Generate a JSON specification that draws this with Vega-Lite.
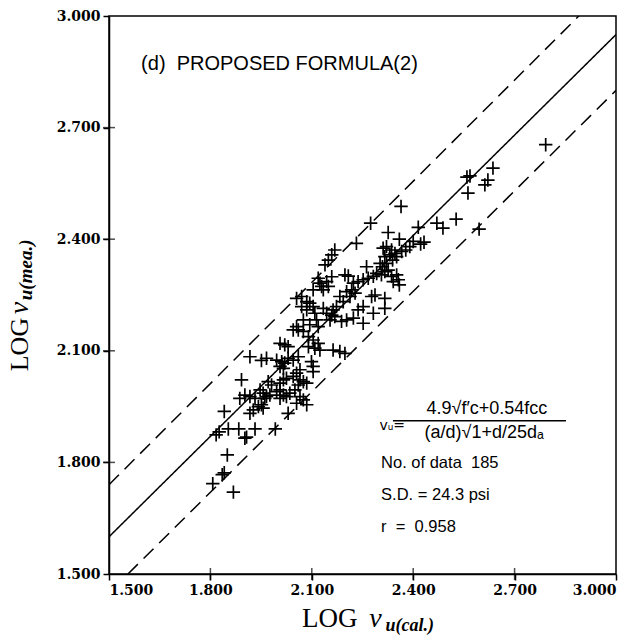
{
  "$schema": "https://vega.github.io/schema/vega-lite/v6.json",
  "width": 507,
  "height": 558,
  "autosize": {"type": "none"},
  "padding": {"left": 109, "top": 16, "right": 25, "bottom": 61},
  "background": "white",
  "config": {
    "view": {"stroke": "black", "strokeWidth": 1.5},
    "axis": {
      "labelFont": "DejaVu Serif", "labelFontWeight": "bold", "labelFontSize": 14, "labelColor": "black",
      "domainColor": "black", "domainWidth": 1.5, "tickColor": "black", "tickWidth": 1.5, "tickSize": 6,
      "grid": false, "title": null
    }
  },
  "datasets": {
    "lines": [
      {"line": "fit", "style": "solid", "x": 1.5, "y": 1.6},
      {"line": "fit", "style": "solid", "x": 3.0, "y": 2.95},
      {"line": "upper", "style": "dashed", "x": 1.5, "y": 1.74},
      {"line": "upper", "style": "dashed", "x": 2.89, "y": 3.0},
      {"line": "lower", "style": "dashed", "x": 1.556, "y": 1.5},
      {"line": "lower", "style": "dashed", "x": 3.0, "y": 2.8}
    ],
    "ticks": [{"v": 1.8}, {"v": 2.1}, {"v": 2.4}, {"v": 2.7}],
    "points": [
      {"cal": 2.364, "mea": 2.488}, {"cal": 2.274, "mea": 2.443}, {"cal": 2.232, "mea": 2.389}, {"cal": 2.326, "mea": 2.418},
      {"cal": 2.359, "mea": 2.400}, {"cal": 2.415, "mea": 2.432}, {"cal": 2.400, "mea": 2.394}, {"cal": 2.422, "mea": 2.387},
      {"cal": 2.390, "mea": 2.380}, {"cal": 2.378, "mea": 2.371}, {"cal": 2.366, "mea": 2.367}, {"cal": 2.351, "mea": 2.353},
      {"cal": 2.339, "mea": 2.344}, {"cal": 2.311, "mea": 2.376}, {"cal": 2.321, "mea": 2.380}, {"cal": 2.336, "mea": 2.371},
      {"cal": 2.346, "mea": 2.362}, {"cal": 2.331, "mea": 2.358}, {"cal": 2.316, "mea": 2.353}, {"cal": 2.321, "mea": 2.335},
      {"cal": 2.309, "mea": 2.326}, {"cal": 2.326, "mea": 2.317}, {"cal": 2.302, "mea": 2.335}, {"cal": 2.306, "mea": 2.304},
      {"cal": 2.316, "mea": 2.313}, {"cal": 2.336, "mea": 2.300}, {"cal": 2.351, "mea": 2.304}, {"cal": 2.359, "mea": 2.277},
      {"cal": 2.341, "mea": 2.286}, {"cal": 2.356, "mea": 2.291},
      {"cal": 2.262, "mea": 2.326}, {"cal": 2.198, "mea": 2.304}, {"cal": 2.208, "mea": 2.301}, {"cal": 2.223, "mea": 2.282},
      {"cal": 2.237, "mea": 2.286}, {"cal": 2.252, "mea": 2.291}, {"cal": 2.267, "mea": 2.295}, {"cal": 2.282, "mea": 2.300},
      {"cal": 2.292, "mea": 2.308}, {"cal": 2.203, "mea": 2.259}, {"cal": 2.218, "mea": 2.264}, {"cal": 2.213, "mea": 2.246},
      {"cal": 2.228, "mea": 2.255}, {"cal": 2.277, "mea": 2.246}, {"cal": 2.287, "mea": 2.250}, {"cal": 2.316, "mea": 2.241},
      {"cal": 2.252, "mea": 2.219}, {"cal": 2.237, "mea": 2.210}, {"cal": 2.316, "mea": 2.214}, {"cal": 2.282, "mea": 2.201},
      {"cal": 2.252, "mea": 2.174}, {"cal": 2.223, "mea": 2.188}, {"cal": 2.203, "mea": 2.183}, {"cal": 2.188, "mea": 2.179},
      {"cal": 2.168, "mea": 2.371}, {"cal": 2.159, "mea": 2.358}, {"cal": 2.149, "mea": 2.344}, {"cal": 2.139, "mea": 2.331},
      {"cal": 2.173, "mea": 2.219}, {"cal": 2.163, "mea": 2.210}, {"cal": 2.159, "mea": 2.196}, {"cal": 2.168, "mea": 2.192},
      {"cal": 2.154, "mea": 2.183}, {"cal": 2.144, "mea": 2.201}, {"cal": 2.134, "mea": 2.214}, {"cal": 2.183, "mea": 2.246},
      {"cal": 2.193, "mea": 2.232}, {"cal": 2.159, "mea": 2.299}, {"cal": 2.144, "mea": 2.286}, {"cal": 2.129, "mea": 2.273},
      {"cal": 2.134, "mea": 2.264}, {"cal": 2.149, "mea": 2.273}, {"cal": 2.119, "mea": 2.295}, {"cal": 2.124, "mea": 2.282},
      {"cal": 2.104, "mea": 2.264}, {"cal": 2.070, "mea": 2.246}, {"cal": 2.055, "mea": 2.241}, {"cal": 2.085, "mea": 2.232},
      {"cal": 2.094, "mea": 2.228}, {"cal": 2.104, "mea": 2.219}, {"cal": 2.085, "mea": 2.210}, {"cal": 2.070, "mea": 2.219},
      {"cal": 2.109, "mea": 2.201}, {"cal": 2.114, "mea": 2.183}, {"cal": 2.119, "mea": 2.165}, {"cal": 2.094, "mea": 2.170},
      {"cal": 2.075, "mea": 2.183}, {"cal": 2.045, "mea": 2.156}, {"cal": 2.060, "mea": 2.156}, {"cal": 2.075, "mea": 2.152},
      {"cal": 2.055, "mea": 2.165}, {"cal": 2.090, "mea": 2.138}, {"cal": 2.104, "mea": 2.129}, {"cal": 2.119, "mea": 2.120},
      {"cal": 2.109, "mea": 2.107}, {"cal": 2.124, "mea": 2.102}, {"cal": 2.090, "mea": 2.111}, {"cal": 2.163, "mea": 2.102},
      {"cal": 2.183, "mea": 2.098}, {"cal": 2.198, "mea": 2.093},
      {"cal": 2.006, "mea": 2.120}, {"cal": 2.020, "mea": 2.116}, {"cal": 2.030, "mea": 2.111}, {"cal": 1.917, "mea": 2.084},
      {"cal": 1.951, "mea": 2.074}, {"cal": 1.966, "mea": 2.080}, {"cal": 1.996, "mea": 2.075}, {"cal": 2.011, "mea": 2.071},
      {"cal": 2.020, "mea": 2.067}, {"cal": 2.030, "mea": 2.080}, {"cal": 2.006, "mea": 2.058}, {"cal": 2.016, "mea": 2.053},
      {"cal": 2.045, "mea": 2.075}, {"cal": 2.060, "mea": 2.084}, {"cal": 1.892, "mea": 2.022}, {"cal": 1.971, "mea": 2.017},
      {"cal": 1.981, "mea": 2.008}, {"cal": 2.006, "mea": 2.013}, {"cal": 2.016, "mea": 2.022}, {"cal": 2.025, "mea": 2.026},
      {"cal": 2.045, "mea": 2.031}, {"cal": 2.055, "mea": 2.040}, {"cal": 2.065, "mea": 2.049}, {"cal": 2.099, "mea": 2.071},
      {"cal": 2.104, "mea": 2.058}, {"cal": 2.104, "mea": 2.044}, {"cal": 1.947, "mea": 1.995}, {"cal": 1.956, "mea": 1.986},
      {"cal": 1.961, "mea": 1.972}, {"cal": 1.966, "mea": 1.977}, {"cal": 1.976, "mea": 1.981}, {"cal": 1.996, "mea": 1.990},
      {"cal": 2.006, "mea": 1.995}, {"cal": 2.006, "mea": 1.972}, {"cal": 2.016, "mea": 1.981}, {"cal": 2.025, "mea": 1.977},
      {"cal": 2.035, "mea": 1.986}, {"cal": 2.050, "mea": 1.995}, {"cal": 2.060, "mea": 2.008}, {"cal": 2.065, "mea": 2.022},
      {"cal": 2.075, "mea": 2.017}, {"cal": 2.085, "mea": 2.013}, {"cal": 2.065, "mea": 1.977}, {"cal": 2.075, "mea": 1.968},
      {"cal": 2.085, "mea": 1.955}, {"cal": 2.055, "mea": 1.959}, {"cal": 2.030, "mea": 1.932}, {"cal": 1.902, "mea": 1.981},
      {"cal": 1.917, "mea": 1.977}, {"cal": 1.932, "mea": 1.972}, {"cal": 1.942, "mea": 1.950}, {"cal": 1.927, "mea": 1.941},
      {"cal": 1.917, "mea": 1.932}, {"cal": 1.951, "mea": 1.955}, {"cal": 1.956, "mea": 1.946}, {"cal": 1.887, "mea": 1.972},
      {"cal": 1.841, "mea": 1.937},
      {"cal": 1.807, "mea": 1.743}, {"cal": 1.835, "mea": 1.767}, {"cal": 1.841, "mea": 1.772}, {"cal": 1.868, "mea": 1.720},
      {"cal": 1.850, "mea": 1.820}, {"cal": 1.826, "mea": 1.882}, {"cal": 1.817, "mea": 1.874}, {"cal": 1.853, "mea": 1.890},
      {"cal": 1.884, "mea": 1.890}, {"cal": 1.907, "mea": 1.868}, {"cal": 1.902, "mea": 1.865}, {"cal": 1.932, "mea": 1.890},
      {"cal": 1.992, "mea": 1.890},
      {"cal": 2.470, "mea": 2.443}, {"cal": 2.488, "mea": 2.430}, {"cal": 2.527, "mea": 2.454}, {"cal": 2.559, "mea": 2.567},
      {"cal": 2.568, "mea": 2.570}, {"cal": 2.562, "mea": 2.524}, {"cal": 2.595, "mea": 2.427}, {"cal": 2.612, "mea": 2.546},
      {"cal": 2.621, "mea": 2.559}, {"cal": 2.636, "mea": 2.591}, {"cal": 2.792, "mea": 2.654}, {"cal": 2.432, "mea": 2.392}
    ]
  },
  "layer": [
    {
      "data": {"name": "lines"},
      "mark": {"type": "line", "color": "black", "strokeWidth": 1.5, "clip": true},
      "encoding": {
        "x": {"field": "x", "type": "quantitative", "scale": {"domain": [1.5, 3.0], "nice": false, "zero": false},
              "axis": {"values": [1.5, 1.8, 2.1, 2.4, 2.7, 3.0], "format": ".3f", "labelPadding": 3}},
        "y": {"field": "y", "type": "quantitative", "scale": {"domain": [1.5, 3.0], "nice": false, "zero": false},
              "axis": {"values": [1.5, 1.8, 2.1, 2.4, 2.7, 3.0], "format": ".3f", "labelPadding": 3}},
        "detail": {"field": "line"},
        "strokeDash": {"field": "style", "type": "nominal", "scale": {"domain": ["solid", "dashed"], "range": [[1, 0], [14, 8]]}, "legend": null}
      }
    },
    {
      "data": {"name": "ticks"},
      "mark": {"type": "tick", "orient": "vertical", "color": "black", "size": 12, "thickness": 1.5},
      "encoding": {"x": {"field": "v", "type": "quantitative"}, "y": {"datum": 1.5}}
    },
    {
      "data": {"name": "ticks"},
      "mark": {"type": "tick", "orient": "horizontal", "color": "black", "size": 12, "thickness": 1.5},
      "encoding": {"y": {"field": "v", "type": "quantitative"}, "x": {"datum": 1.5}}
    },
    {
      "data": {"name": "points"},
      "mark": {"type": "point", "shape": "M-1,0H1M0,-1V1", "filled": false, "stroke": "black", "strokeWidth": 1.7, "size": 180, "opacity": 1},
      "encoding": {
        "x": {"field": "cal", "type": "quantitative"},
        "y": {"field": "mea", "type": "quantitative"}
      }
    },
    {
      "data": {"values": [{}]},
      "mark": {"type": "text", "text": "(d)\u00a0\u00a0PROPOSED FORMULA(2)", "font": "Liberation Sans", "fontSize": 20, "align": "left", "baseline": "alphabetic", "color": "black"},
      "encoding": {"x": {"datum": 1.595}, "y": {"datum": 2.855}}
    },
    {
      "data": {"values": [{}]},
      "mark": {"type": "text", "text": "vᵤ=", "font": "DejaVu Sans", "fontSize": 14, "align": "left", "baseline": "alphabetic", "color": "black"},
      "encoding": {"x": {"datum": 2.3}, "y": {"datum": 1.888}}
    },
    {
      "data": {"values": [{}]},
      "mark": {"type": "text", "text": "4.9√f′c+0.54fcc", "font": "Liberation Sans", "fontSize": 18, "align": "center", "baseline": "alphabetic", "color": "black"},
      "encoding": {"x": {"datum": 2.618}, "y": {"datum": 1.93}}
    },
    {
      "data": {"values": [{}]},
      "mark": {"type": "rule", "color": "black", "strokeWidth": 1.5},
      "encoding": {"x": {"datum": 2.34}, "x2": {"datum": 2.852}, "y": {"datum": 1.912}}
    },
    {
      "data": {"values": [{}]},
      "mark": {"type": "text", "text": "(a/d)√1+d/25dₐ", "font": "Liberation Sans", "fontSize": 18, "align": "center", "baseline": "alphabetic", "color": "black"},
      "encoding": {"x": {"datum": 2.61}, "y": {"datum": 1.866}}
    },
    {
      "data": {"values": [{"t": "No. of data\u00a0\u00a0185", "y": 1.785}, {"t": "S.D. = 24.3 psi", "y": 1.699}, {"t": "r\u00a0\u00a0=\u00a0\u00a00.958", "y": 1.613}]},
      "mark": {"type": "text", "font": "Liberation Sans", "fontSize": 16.5, "align": "left", "baseline": "alphabetic", "color": "black"},
      "encoding": {"x": {"datum": 2.305}, "y": {"field": "y", "type": "quantitative"}, "text": {"field": "t"}}
    },
    {
      "data": {"values": [{}]},
      "mark": {"type": "text", "text": "LOG", "font": "Liberation Serif", "fontSize": 27, "align": "left", "baseline": "alphabetic", "color": "black"},
      "encoding": {"x": {"datum": 2.071}, "y": {"datum": 1.3575}}
    },
    {
      "data": {"values": [{}]},
      "mark": {"type": "text", "text": "v", "font": "Liberation Serif", "fontStyle": "italic", "fontSize": 28, "align": "left", "baseline": "alphabetic", "color": "black"},
      "encoding": {"x": {"datum": 2.27}, "y": {"datum": 1.3575}}
    },
    {
      "data": {"values": [{}]},
      "mark": {"type": "text", "text": "u(cal.)", "font": "Liberation Serif", "fontStyle": "italic", "fontWeight": "bold", "fontSize": 18, "align": "left", "baseline": "alphabetic", "color": "black"},
      "encoding": {"x": {"datum": 2.318}, "y": {"datum": 1.347}}
    },
    {
      "data": {"values": [{}]},
      "mark": {"type": "text", "text": "LOG", "font": "Liberation Serif", "fontSize": 26, "angle": 270, "align": "left", "baseline": "alphabetic", "color": "black"},
      "encoding": {"x": {"datum": 1.26}, "y": {"datum": 2.045}}
    },
    {
      "data": {"values": [{}]},
      "mark": {"type": "text", "text": "v", "font": "Liberation Serif", "fontStyle": "italic", "fontSize": 28, "angle": 270, "align": "left", "baseline": "alphabetic", "color": "black"},
      "encoding": {"x": {"datum": 1.26}, "y": {"datum": 2.198}}
    },
    {
      "data": {"values": [{}]},
      "mark": {"type": "text", "text": "u(mea.)", "font": "Liberation Serif", "fontStyle": "italic", "fontWeight": "bold", "fontSize": 19, "angle": 270, "align": "left", "baseline": "alphabetic", "color": "black"},
      "encoding": {"x": {"datum": 1.273}, "y": {"datum": 2.236}}
    }
  ]
}
